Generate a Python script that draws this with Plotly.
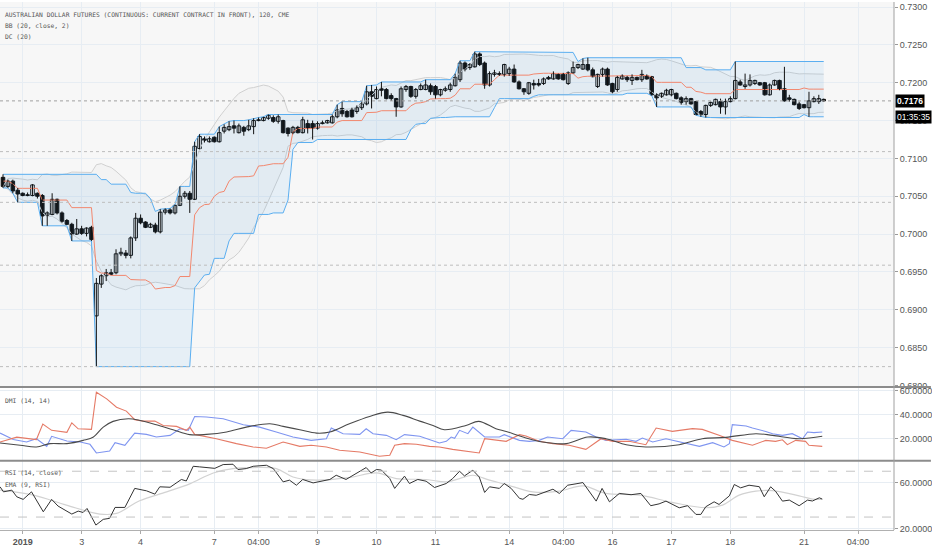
import pandas as pd
import plotly.graph_objects as go
from plotly.subplots import make_subplots

title_lines = ["AUSTRALIAN DOLLAR FUTURES (CONTINUOUS: CURRENT CONTRACT IN FRONT), 120, CME",
               "BB (20, close, 2)", "DC (20)"]
dmi_label = "DMI (14, 14)"
rsi_labels = ["RSI (14, close)", "EMA (9, RSI)"]
countdown = "01:35:35"

opens = [0.7075,0.7063,0.7070,0.7058,0.7054,0.7052,0.7051,0.7054,0.7051,0.7025,
         0.7026,0.7046,0.7028,0.7018,0.7013,0.7000,0.7007,0.7001,0.7009,0.6892,
         0.6934,0.6945,0.6949,0.6949,0.6974,0.6975,0.6972,0.6995,0.7021,0.7016,
         0.7009,0.7012,0.7003,0.7029,0.7032,0.7028,0.7038,0.7050,0.7054,0.7046,
         0.7113,0.7126,0.7122,0.7128,0.7122,0.7136,0.7138,0.7143,0.7134,0.7141,
         0.7138,0.7142,0.7151,0.7150,0.7153,0.7154,0.7149,0.7150,0.7140,0.7134,
         0.7141,0.7134,0.7146,0.7146,0.7140,0.7147,0.7147,0.7147,0.7155,0.7166,
         0.7162,0.7164,0.7162,0.7167,0.7172,0.7188,0.7179,0.7192,0.7191,0.7183,
         0.7179,0.7168,0.7191,0.7195,0.7182,0.7191,0.7191,0.7196,0.7195,0.7184,
         0.7190,0.7191,0.7196,0.7204,0.7226,0.7220,0.7221,0.7238,0.7226,0.7197,
         0.7211,0.7212,0.7211,0.7212,0.7218,0.7201,0.7192,0.7186,0.7199,0.7199,
         0.7199,0.7207,0.7205,0.7211,0.7211,0.7199,0.7213,0.7220,0.7218,0.7224,
         0.7217,0.7195,0.7211,0.7218,0.7199,0.7191,0.7205,0.7207,0.7203,0.7207,
         0.7204,0.7209,0.7208,0.7184,0.7182,0.7184,0.7184,0.7186,0.7180,0.7175,
         0.7179,0.7175,0.7162,0.7158,0.7170,0.7171,0.7175,0.7168,0.7175,0.7179,
         0.7201,0.7195,0.7197,0.7199,0.7200,0.7200,0.7184,0.7197,0.7203,0.7192,
         0.7180,0.7178,0.7172,0.7171,0.7167,0.7175,0.7175,0.7178]
highs = [0.7079,0.7072,0.7072,0.7061,0.7055,0.7055,0.7066,0.7055,0.7053,0.7030,
         0.7054,0.7047,0.7030,0.7020,0.7015,0.7020,0.7011,0.7009,0.7011,0.6942,
         0.6947,0.6954,0.6954,0.6980,0.6982,0.6979,0.6997,0.7028,0.7026,0.7017,
         0.7015,0.7015,0.7033,0.7034,0.7034,0.7039,0.7063,0.7057,0.7057,0.7122,
         0.7132,0.7129,0.7129,0.7129,0.7142,0.7145,0.7149,0.7150,0.7146,0.7143,
         0.7151,0.7153,0.7154,0.7155,0.7158,0.7157,0.7158,0.7151,0.7141,0.7143,
         0.7143,0.7155,0.7151,0.7150,0.7149,0.7150,0.7151,0.7158,0.7171,0.7175,
         0.7164,0.7167,0.7170,0.7175,0.7196,0.7197,0.7195,0.7201,0.7193,0.7186,
         0.7180,0.7195,0.7197,0.7196,0.7193,0.7199,0.7204,0.7199,0.7197,0.7192,
         0.7195,0.7200,0.7212,0.7229,0.7228,0.7226,0.7241,0.7240,0.7228,0.7215,
         0.7217,0.7215,0.7225,0.7221,0.7224,0.7203,0.7193,0.7201,0.7204,0.7205,
         0.7207,0.7209,0.7215,0.7212,0.7213,0.7215,0.7228,0.7225,0.7232,0.7233,
         0.7220,0.7212,0.7220,0.7220,0.7200,0.7209,0.7211,0.7209,0.7211,0.7208,
         0.7217,0.7211,0.7209,0.7186,0.7187,0.7192,0.7192,0.7187,0.7182,0.7182,
         0.7180,0.7176,0.7164,0.7171,0.7175,0.7179,0.7179,0.7179,0.7182,0.7228,
         0.7204,0.7212,0.7211,0.7204,0.7201,0.7201,0.7199,0.7204,0.7204,0.7221,
         0.7184,0.7179,0.7175,0.7172,0.7188,0.7182,0.7184,0.7179]
lows = [0.7061,0.7061,0.7054,0.7042,0.7050,0.7050,0.7050,0.7047,0.7011,0.7011,
        0.7025,0.7026,0.7015,0.7012,0.6991,0.6999,0.6999,0.6997,0.6991,0.6825,
        0.6929,0.6938,0.6946,0.6947,0.6971,0.6968,0.6968,0.6991,0.7013,0.7008,
        0.7008,0.7001,0.7001,0.7026,0.7026,0.7026,0.7037,0.7047,0.7028,0.7045,
        0.7112,0.7121,0.7121,0.7121,0.7121,0.7133,0.7136,0.7133,0.7133,0.7130,
        0.7136,0.7132,0.7149,0.7149,0.7151,0.7147,0.7146,0.7133,0.7129,0.7132,
        0.7133,0.7133,0.7133,0.7125,0.7138,0.7145,0.7146,0.7146,0.7153,0.7155,
        0.7154,0.7154,0.7159,0.7164,0.7170,0.7166,0.7178,0.7182,0.7178,0.7176,
        0.7155,0.7167,0.7188,0.7180,0.7179,0.7190,0.7190,0.7184,0.7179,0.7182,
        0.7188,0.7188,0.7195,0.7201,0.7215,0.7217,0.7220,0.7222,0.7192,0.7195,
        0.7208,0.7209,0.7208,0.7209,0.7200,0.7191,0.7184,0.7184,0.7191,0.7195,
        0.7197,0.7204,0.7204,0.7204,0.7203,0.7197,0.7212,0.7218,0.7217,0.7215,
        0.7207,0.7193,0.7208,0.7196,0.7186,0.7188,0.7204,0.7201,0.7197,0.7203,
        0.7201,0.7204,0.7183,0.7168,0.7180,0.7183,0.7182,0.7178,0.7171,0.7171,
        0.7171,0.7157,0.7155,0.7154,0.7168,0.7170,0.7159,0.7158,0.7174,0.7178,
        0.7196,0.7192,0.7195,0.7197,0.7196,0.7183,0.7183,0.7196,0.7190,0.7175,
        0.7175,0.7170,0.7164,0.7166,0.7155,0.7174,0.7172,0.7175]
closes = [0.7063,0.7070,0.7057,0.7053,0.7051,0.7051,0.7065,0.7050,0.7024,0.7028,
          0.7046,0.7028,0.7017,0.7013,0.7000,0.7007,0.7001,0.7008,0.6993,0.6935,
          0.6945,0.6949,0.6947,0.6974,0.6976,0.6972,0.6995,0.7021,0.7015,0.7009,
          0.7013,0.7003,0.7029,0.7032,0.7028,0.7038,0.7050,0.7054,0.7046,0.7116,
          0.7129,0.7124,0.7126,0.7122,0.7134,0.7141,0.7142,0.7140,0.7143,0.7136,
          0.7143,0.7150,0.7150,0.7154,0.7157,0.7149,0.7155,0.7134,0.7133,0.7141,
          0.7134,0.7151,0.7140,0.7140,0.7146,0.7146,0.7150,0.7155,0.7164,0.7159,
          0.7155,0.7155,0.7167,0.7172,0.7188,0.7182,0.7191,0.7190,0.7179,0.7179,
          0.7168,0.7192,0.7195,0.7182,0.7191,0.7196,0.7197,0.7188,0.7184,0.7191,
          0.7192,0.7197,0.7207,0.7226,0.7218,0.7224,0.7238,0.7224,0.7197,0.7212,
          0.7213,0.7211,0.7224,0.7218,0.7201,0.7192,0.7188,0.7200,0.7197,0.7197,
          0.7205,0.7205,0.7212,0.7205,0.7204,0.7213,0.7220,0.7224,0.7224,0.7217,
          0.7208,0.7211,0.7218,0.7197,0.7188,0.7207,0.7209,0.7204,0.7207,0.7204,
          0.7211,0.7205,0.7184,0.7180,0.7186,0.7190,0.7191,0.7179,0.7174,0.7179,
          0.7172,0.7158,0.7158,0.7170,0.7174,0.7178,0.7168,0.7175,0.7179,0.7203,
          0.7197,0.7197,0.7203,0.7203,0.7197,0.7184,0.7197,0.7203,0.7191,0.7176,
          0.7178,0.7171,0.7166,0.7167,0.7176,0.7179,0.7179,0.7176]

tick_bars = [5, 17, 29, 44, 53, 65, 77, 89, 104, 115, 125, 137, 149, 164, 175]
tick_labels = ["<b>2019</b>", "3", "4", "7", "04:00", "9", "10", "11", "14",
               "04:00", "16", "17", "18", "21", "04:00"]
price_ticks = [0.6800, 0.6850, 0.6900, 0.6950, 0.7000, 0.7050, 0.7100,
               0.7150, 0.7200, 0.7250, 0.7300]
level_lines = [0.7109, 0.7042, 0.6959, 0.6825]

pdi_x = [0.4,3.1,5.8,7.8,9.9,10.9,14.0,16.7,18.7,20.0,22.7,23.8,25.8,27.8,30.2,32.2,35.0,37.0,38.7,40.0,
         42.4,45.8,49.9,53.2,56.6,60.0,63.7,66.8,67.8,70.2,73.6,74.9,76.3,79.0,81.0,82.7,85.8,89.8,91.2,92.2,
         92.9,93.9,95.6,96.6,99.0,102.0,103.0,106.1,108.1,110.1,111.8,114.9,116.6,119.6,121.7,123.7,127.8,
         129.8,131.1,133.2,135.9,138.6,142.7,145.4,147.7,148.8,149.4,152.2,153.5,156.2,157.6,159.6,161.6,
         163.7,164.7,166.0,167.7]
pdi_y = [24.4,19,16.9,19.7,13.3,21.7,17.8,16.9,15,7.8,9.4,16.4,14.2,24.4,23.3,21.1,22.5,28,26.7,38.3,
         37.8,36.4,31.4,29.4,25.3,21.1,18.3,19.7,28.6,23.9,23.3,28,23.9,22.5,18.9,23.1,21.7,16.1,17.5,21.1,
         20,26.7,23.9,29.4,21.1,21.1,23.1,18.3,17.5,18.3,21.1,19.7,26.7,25.3,21.1,18.3,19.2,
         17.5,20.3,16.9,19.7,16.9,13.3,16.4,12.8,15.5,31.4,30.3,28.6,25.8,23.9,22.5,23.9,
         19.7,25.3,24.8,25.3]
mdi_x = [0.4,3.8,7.8,9.1,10.9,14.0,15.0,16.3,19.0,20.0,22.1,24.1,26.1,27.8,29.5,31.9,33.6,36.3,38.3,39.0,
         40.0,44.4,48.5,51.9,54.6,58.0,61.4,63.7,66.8,69.5,73.6,77.6,79.7,80.7,82.7,85.1,87.8,89.8,92.5,95.2,
         97.9,99.0,103.4,106.1,107.4,110.1,112.9,116.2,119.6,122.7,125.1,128.4,131.8,133.9,137.2,141.3,143.3,
         146.7,149.4,153.5,156.2,158.2,159.6,160.6,162.3,164.3,165.0,167.7]
mdi_y = [16.9,21,19,32,26.7,25,33,28,27.5,58.6,53,46,42.8,35.6,34.4,34.4,30.8,30,26.7,29.4,
         23.3,19.7,15.6,12.8,11.7,16.9,13.3,14.2,12.8,10,8.6,5,5.8,14.2,15.6,15,13.3,12.8,10.8,9.2,
         7.8,19.7,17.5,23.1,22,17.5,15.6,14.2,10.8,19.7,17.5,17.5,14.7,28.6,25.8,28.1,27.5,
         22.5,18.3,14.2,18.3,17.5,18.8,14.7,18.3,17.5,14.2,13.3]
adx_x = [0.4,4.5,7.8,10.6,14.0,17.3,19.4,21.4,23.4,26.5,28.9,32.2,35.6,39.0,42.4,46.5,50.5,55.3,58.0,61.4,
         64.8,67.5,71.5,75.6,79.3,82.4,85.8,88.5,90.8,95.2,97.8,101.3,103.4,106.8,110.8,115.6,120.0,123.7,
         127.8,131.8,138.6,143.3,148.1,154.2,157.6,163.0,167.7]
adx_y = [16.1,14.2,12.8,15.6,15.6,18.3,21.1,29.4,34.2,36.4,35,31.4,27.2,23.1,23.3,25.3,29.4,32.2,30,27.2,
         24.4,25.3,32.2,38.3,41.9,39.2,34.4,30.8,27.2,30.8,34.2,28.1,25.8,21.1,16.9,15.6,21.1,19.7,
         14.7,12.8,14.7,19.7,20.8,23.9,22.5,19.7,21.7]
rsi_x = [0.4,1.1,2.8,3.8,5.1,6.8,9.2,10.9,12.2,15.0,16.3,17.3,18.1,19.9,21.4,22.7,23.8,25.8,27.8,30.2,
         31.9,32.9,35.0,37.3,38.3,39.7,41.0,42.4,44.1,45.8,47.8,48.8,50.5,51.9,54.6,56.0,58.0,59.3,60.7,62.0,
         64.1,67.5,68.8,70.8,72.2,74.9,75.9,77.0,78.0,79.7,80.7,82.7,83.7,85.4,87.1,88.8,91.2,92.5,93.9,94.9,
         96.6,97.9,99.0,100.0,102.0,103.0,104.4,106.1,106.8,108.1,109.5,111.5,112.9,114.2,115.9,117.6,119.0,
         121.7,122.9,124.4,126.4,128.8,130.8,132.8,134.5,135.9,138.6,140.3,142.0,143.0,144.0,145.7,146.7,
         148.8,149.8,151.1,152.8,154.9,155.9,157.2,158.2,159.6,161.0,163.0,164.7,165.7,167.1,167.7]
rsi_y = [56.4,52,53.5,47.7,45.4,52,34.6,45.4,39.6,32.6,35.2,34,37.5,23,28,28.9,38.4,38.4,55,52.9,
         50,56.4,56,62.8,61.5,74.3,73.8,73.2,72.5,75.8,76.1,71.5,72.3,74.3,75.2,72.3,60.7,62.2,57.8,62.8,
         59.8,62.8,66.5,62.8,66.5,73.2,68.5,71.5,71,63.6,55,65.7,59.3,62.8,61.3,55.8,59.3,63.6,70,65.9,
         70.9,65,51.5,56.4,55,59.3,55,46.3,45.5,49.7,49,52,54.3,50.6,57.8,59,60.1,
         43.9,55,43.3,50.6,49.5,50.6,39.9,41.5,43.9,38.1,39.9,32.3,32.3,39,43.3,41,
         48.5,58.4,55.5,57.8,56.5,47.7,56.4,52.5,43.9,44.8,39.9,44.8,44,46.8,45.7]
ema_x = [0.4,7.2,13.9,20.7,24.1,28.8,34.3,39.0,43.8,47.8,51.9,56.6,60.0,64.8,71.5,77.0,81.0,87.1,91.2,93.9,
         96.6,100.0,103.4,108.8,114.2,119.0,123.7,130.5,137.2,144.0,147.4,150.8,154.2,157.6,163.0,165.7,167.7]
ema_y = [53.5,49.1,40.4,32.6,33.2,44.2,52,59,68.5,72.3,73.2,72.3,65,62.2,64.5,68.5,63.6,62.8,60.7,63.6,
         66.5,62.2,58.4,52,52.6,57.2,50.6,49.1,42.8,38.1,40.4,49.1,52.6,53,48.5,45.7,45.5]

# indicators computed from the candles
n = len(closes)
bars = list(range(1, n + 1))
c = pd.Series(closes)
hs = pd.Series(highs)
ls = pd.Series(lows)
bb_mid = c.rolling(20, min_periods=1).mean()
bb_sd = c.rolling(20, min_periods=1).std(ddof=0)
bb_up = bb_mid + 2 * bb_sd
bb_lo = bb_mid - 2 * bb_sd
dc_up = hs.rolling(20, min_periods=1).max()
dc_lo = ls.rolling(20, min_periods=1).min()
dc_mid = (dc_up + dc_lo) / 2

fig = make_subplots(rows=3, cols=1, shared_xaxes=True, vertical_spacing=0)

fig.add_trace(go.Scatter(x=bars, y=bb_up, mode="lines", line=dict(color="#d0d0d0", width=1)), 1, 1)
fig.add_trace(go.Scatter(x=bars, y=bb_lo, mode="lines", line=dict(color="#d0d0d0", width=1),
                         fill="tonexty", fillcolor="rgba(120,120,120,0.03)"), 1, 1)
fig.add_trace(go.Scatter(x=bars, y=dc_up, mode="lines", line=dict(color="#5aaef0", width=1)), 1, 1)
fig.add_trace(go.Scatter(x=bars, y=dc_lo, mode="lines", line=dict(color="#5aaef0", width=1),
                         fill="tonexty", fillcolor="rgba(33,150,243,0.075)"), 1, 1)
fig.add_trace(go.Scatter(x=bars, y=dc_mid, mode="lines", line=dict(color="#f2876e", width=1)), 1, 1)

wx, wy = [], []
for k, hi, lo in zip(bars, highs, lows):
    wx += [k, k, None]
    wy += [lo, hi, None]
fig.add_trace(go.Scatter(x=wx, y=wy, mode="lines", line=dict(color="#111", width=1)), 1, 1)

bases = [min(o, cl) for o, cl in zip(opens, closes)]
heights = [max(abs(cl - o), 0.00002) for o, cl in zip(opens, closes)]
fills = ["#ffffff" if cl >= o else "#111111" for o, cl in zip(opens, closes)]
fig.add_trace(go.Bar(x=bars, y=heights, base=bases, width=0.72,
                     marker=dict(color=fills, line=dict(color="#111", width=1))), 1, 1)

fig.add_trace(go.Scatter(x=pdi_x, y=pdi_y, mode="lines", line=dict(color="#7f95f0", width=1.1)), 2, 1)
fig.add_trace(go.Scatter(x=mdi_x, y=mdi_y, mode="lines", line=dict(color="#e57a66", width=1.1)), 2, 1)
fig.add_trace(go.Scatter(x=adx_x, y=adx_y, mode="lines", line=dict(color="#4a4a4a", width=1.1, shape="spline")), 2, 1)

fig.add_trace(go.Scatter(x=ema_x, y=ema_y, mode="lines", line=dict(color="#d2d2d2", width=1.2, shape="spline")), 3, 1)
fig.add_trace(go.Scatter(x=rsi_x, y=rsi_y, mode="lines", line=dict(color="#333333", width=1)), 3, 1)

grid = "#e7edf3"
tick_font = dict(family="Liberation Sans Narrow, Liberation Sans, Arial", size=9, color="#555")
fig.update_xaxes(range=[0.39, 182.3], tickvals=tick_bars, ticktext=tick_labels, showgrid=True,
                 gridcolor=grid, gridwidth=1, zeroline=False, tickfont=tick_font)
fig.update_xaxes(showticklabels=False, row=1, col=1)
fig.update_xaxes(showticklabels=False, row=2, col=1)
fig.update_xaxes(showticklabels=True, ticks="outside", ticklen=3, tickcolor="#aaa",
                 showline=True, linecolor="#b0b0b0", linewidth=1, row=3, col=1)

yax = dict(side="right", showgrid=True, gridcolor=grid, zeroline=False, tickformat=".4f",
           ticks="outside", ticklen=3, tickcolor="#999", tickfont=tick_font)
fig.update_layout(
    width=932, height=550,
    margin=dict(l=0, r=37, t=0, b=20),
    plot_bgcolor="#ffffff", paper_bgcolor="#ffffff",
    showlegend=False, hovermode=False, barmode="overlay",
    yaxis=dict(domain=[0.2717, 1.0], range=[0.67987, 0.73066], tickvals=price_ticks, **yax),
    yaxis2=dict(domain=[0.1321, 0.2698], range=[1.67, 62.5], tickvals=[20, 40, 60], **yax),
    yaxis3=dict(domain=[0.0, 0.1302], range=[18.7, 78.7], tickvals=[20, 60], **yax),
)

shapes = [dict(type="rect", xref="paper", yref="paper", x0=0, x1=1, y0=0.2717, y1=1,
               fillcolor="#f7f7f7", line=dict(width=0), layer="below")]
for lv in level_lines:
    shapes.append(dict(type="line", xref="paper", yref="y", x0=0, x1=1, y0=lv, y1=lv,
                       line=dict(color="#bdbdbd", width=1, dash="dot")))
shapes.append(dict(type="line", xref="paper", yref="y", x0=0, x1=1, y0=closes[-1], y1=closes[-1],
                   line=dict(color="#a0a0a0", width=1, dash="dot")))
for lv in [70, 30]:
    shapes.append(dict(type="line", xref="paper", yref="y3", x0=0, x1=1, y0=lv, y1=lv,
                       line=dict(color="#c4c4c4", width=1, dash="dash")))
for yp in [0.2708, 0.1311]:
    shapes.append(dict(type="line", xref="paper", yref="paper", x0=0, x1=1.0413, y0=yp, y1=yp,
                       line=dict(color="#8c8c8c", width=2)))
shapes.append(dict(type="line", xref="paper", yref="paper", x0=1, x1=1, y0=0, y1=1,
                   line=dict(color="#a0a0a0", width=1)))
fig.update_layout(shapes=shapes)

lab_font = dict(family="DejaVu Sans Mono", size=6.3, color="#555")
ann = []
for txt, yp in zip(title_lines, [0.976, 0.9547, 0.9353]):
    ann.append(dict(text=txt, xref="paper", yref="paper", x=0, y=yp, xanchor="left", yanchor="middle",
                    xshift=3, showarrow=False, font=lab_font))
ann.append(dict(text=dmi_label, xref="paper", yref="paper", x=0, y=0.2453, xanchor="left",
                yanchor="middle", xshift=3, showarrow=False, font=lab_font))
for txt, yp in zip(rsi_labels, [0.1094, 0.0868]):
    ann.append(dict(text=txt, xref="paper", yref="paper", x=0, y=yp, xanchor="left", yanchor="middle",
                    xshift=3, showarrow=False, font=lab_font))
box_font = dict(family="Liberation Sans Narrow, Liberation Sans", size=8.5, color="#fff")
ann.append(dict(text="<b>%.4f</b>" % closes[-1], xref="paper", yref="y", x=1, y=closes[-1],
                xanchor="left", yanchor="middle", xshift=1, showarrow=False, bgcolor="#000",
                borderpad=1, font=box_font))
ann.append(dict(text=countdown, xref="paper", yref="y", x=1, y=closes[-1], xanchor="left",
                yanchor="middle", xshift=1, yshift=-16, showarrow=False, bgcolor="#000", borderpad=1,
                font=box_font))
fig.update_layout(annotations=ann)

fig.write_html("out.html", config={"displayModeBar": False},
               post_script="document.body.style.margin='0';document.body.style.padding='0';")
